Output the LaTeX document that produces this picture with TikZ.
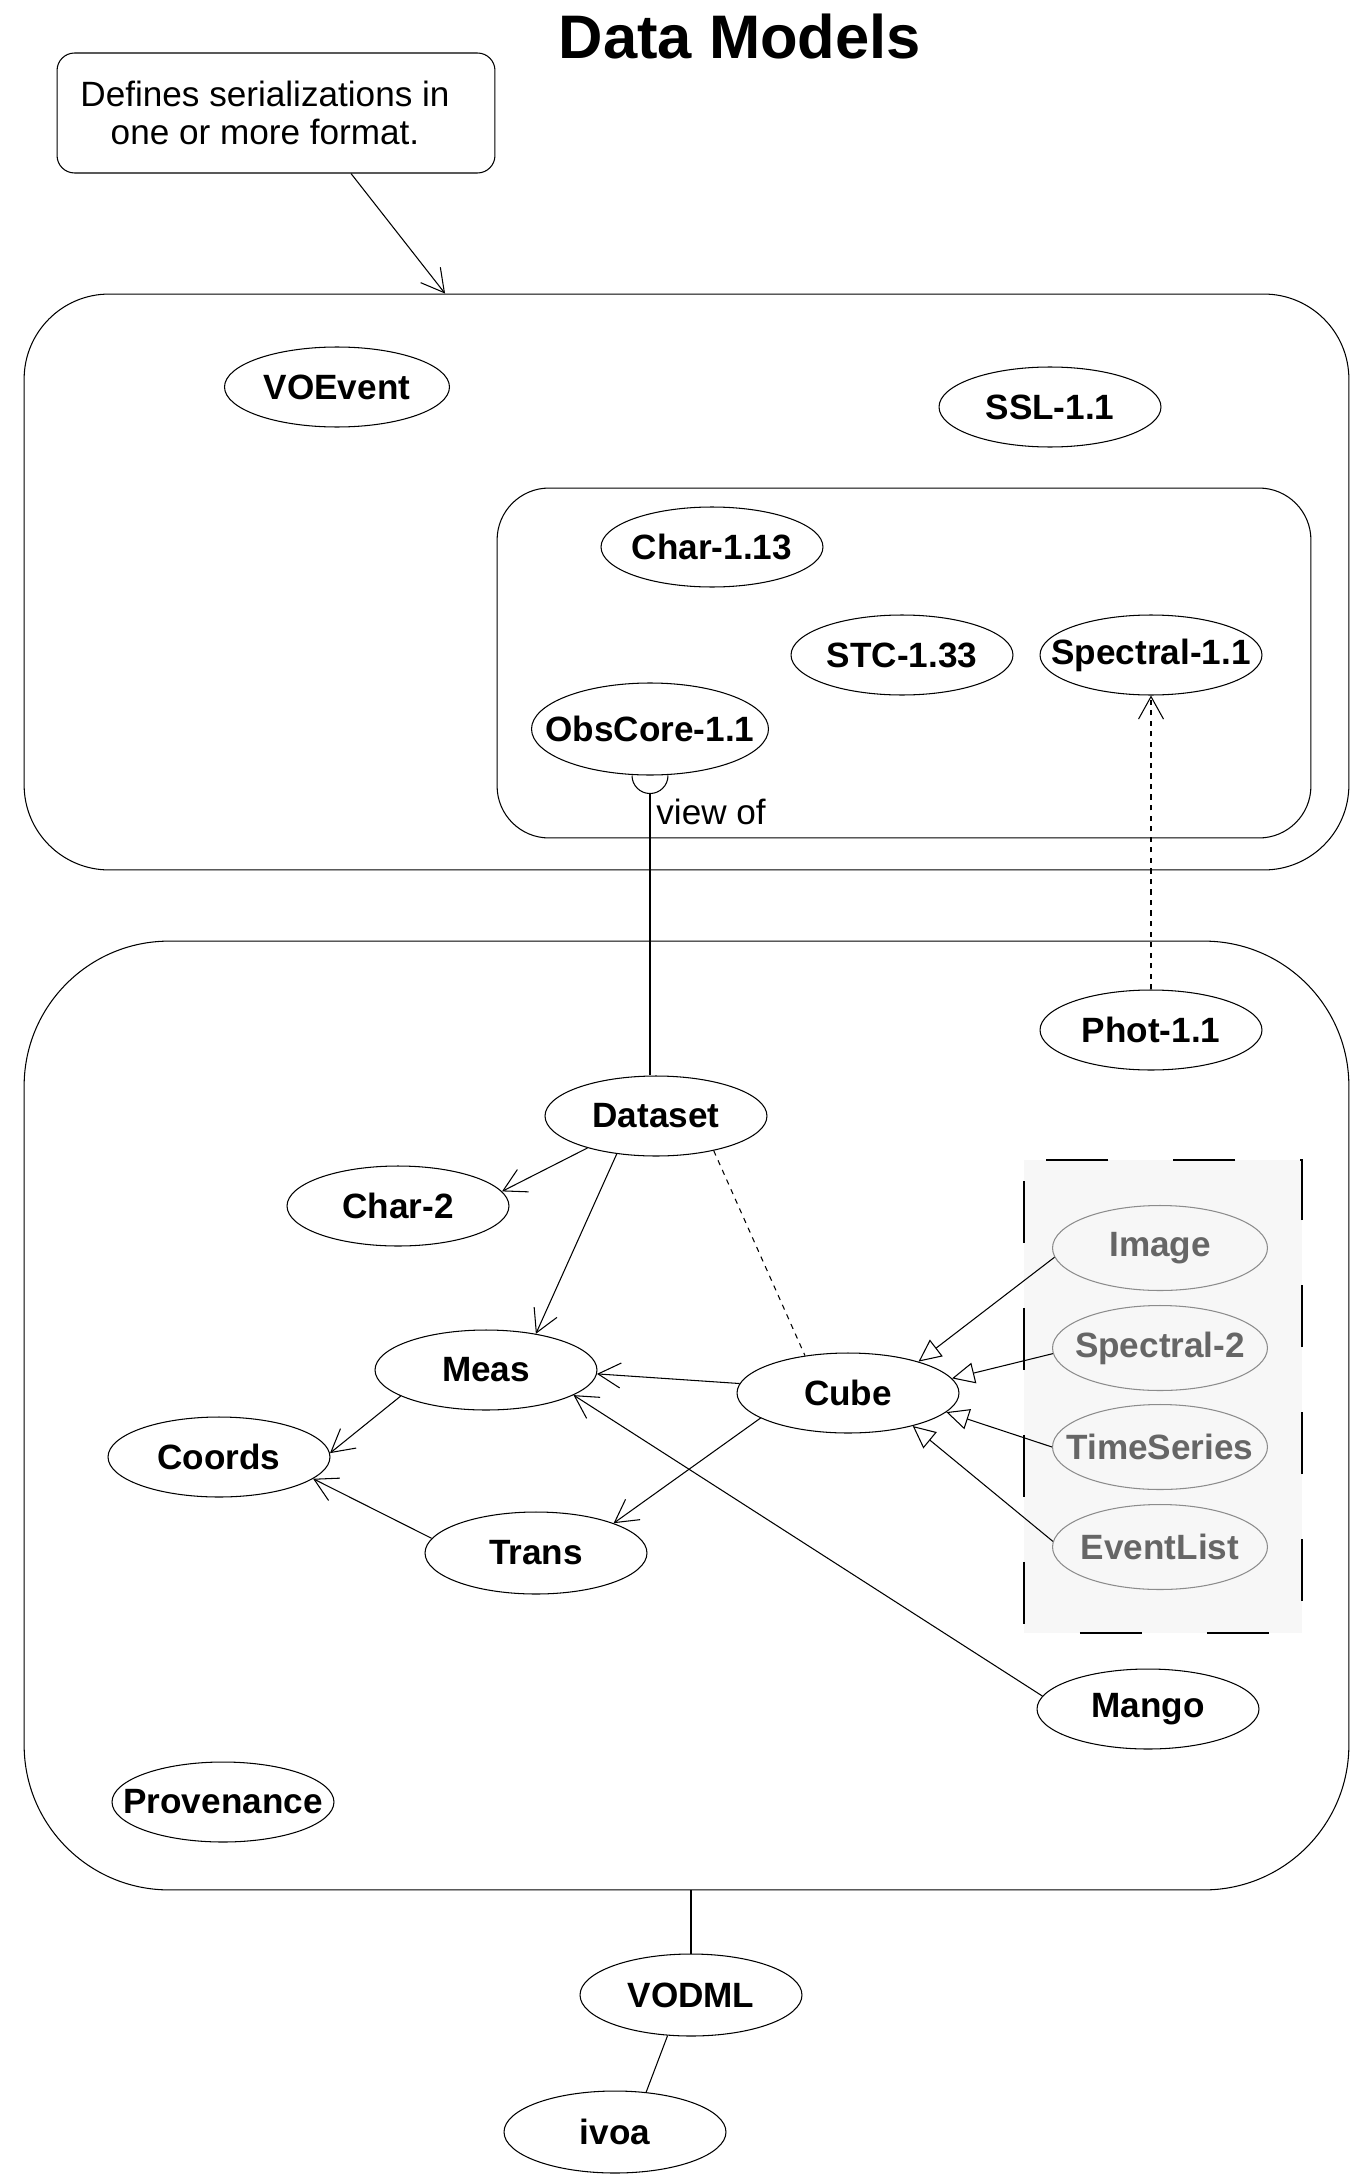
\documentclass[tikz,border=0pt]{standalone}
\usepackage{fontspec}
\setmainfont{Liberation Sans}
\usetikzlibrary{shapes.geometric,arrows.meta}

\begin{document}
\begin{tikzpicture}[x=0.02cm,y=-0.02cm,line width=0.6pt,
  model/.style={draw,ellipse,fill=white,minimum width=4.44cm,minimum height=1.6cm,inner xsep=-1.5cm,inner ysep=0pt,font=\fontsize{20}{24}\selectfont\bfseries},
  future/.style={model,draw=black!45,fill=black!3,text=black!60,minimum width=4.3cm,minimum height=1.7cm},
  pkg/.style={draw,rounded corners=#1},
  uses/.style={-{Straight Barb[length=0.45cm,width=0.5cm]}},
  extends/.style={-{Triangle[length=0.45cm,width=0.42cm,fill=white]}},
  dep/.style={dash pattern=on 3pt off 3pt}]
\useasboundingbox (0,0) rectangle (1353,2176);

\node [font=\fontsize{35}{40}\selectfont\bfseries] (title) at (740,37) {Data Models};
\node [draw,rounded corners=0.35cm,minimum width=8.76cm,minimum height=2.4cm,align=center,font=\fontsize{20}{21.3}\selectfont] (note) at (276,113) {Defines serializations in\hspace*{0.44cm}\\one or more format.\hspace*{0.44cm}};

\node [pkg=1.7cm,minimum width=26.5cm,minimum height=11.52cm] (dm1) at (686.5,582) {};
\node [pkg=1.04cm,minimum width=16.28cm,minimum height=7cm] (dm1sub) at (904,663) {};
\node [pkg=2.9cm,minimum width=26.5cm,minimum height=18.98cm] (dm2) at (686.5,1415.5) {};
\draw [line width=0.8pt,fill=black!3,dash pattern=on 1.24cm off 1.3cm,dash phase=2.12cm] (1024,1160) rectangle (1302,1633);

\node [model,minimum width=4.5cm] (VOEvent) at (337,387) {VOEvent};
\node [model] (SSL) at (1050,407) {SSL-1.1};
\node [model] (Char113) at (712,547) {Char-1.13};
\node [model] (STC) at (902,655) {STC-1.33};
\node [model] (Spectral11) at (1151,655) {Spectral-1.1};
\node [model,minimum width=4.74cm,minimum height=1.84cm] (ObsCore) at (650,729) {ObsCore-1.1};

\node [model] (Phot) at (1151,1030) {Phot-1.1};
\node [model] (Dataset) at (656,1116) {Dataset};
\node [model] (Char2) at (398,1206) {Char-2};
\node [model] (Meas) at (486,1370) {Meas};
\node [model] (Coords) at (219,1457) {Coords};
\node [model,minimum height=1.64cm] (Trans) at (536,1553) {Trans};
\node [model] (Cube) at (848,1393) {Cube};
\node [future] (Image) at (1160,1248) {Image};
\node [future] (Spectral2) at (1160,1348) {Spectral-2};
\node [future] (TimeSeries) at (1160,1447) {TimeSeries};
\node [future] (EventList) at (1160,1547) {EventList};
\node [model] (Mango) at (1148,1709) {Mango};
\node [model] (Provenance) at (223,1802) {Provenance};
\node [model,minimum height=1.64cm] (VODML) at (691,1995) {VODML};
\node [model,minimum height=1.64cm] (ivoa) at (615,2132) {ivoa};

\draw [uses] ([xshift=1.5cm]note.south) -- ([xshift=-4.83cm]dm1.north);

\draw (ObsCore.south) ++(-18,0) arc [start angle=180, end angle=360, radius=0.36cm];
\draw ([yshift=-0.36cm]ObsCore.south) -- node [pos=0.065,right,font=\fontsize{20}{24}\selectfont] {view of} (ObsCore.south |- Dataset.north);
\draw [dep,uses] (Phot.north) -- (Spectral11.south);

\draw [uses] (Dataset.205) -- (Char2.8);
\draw [uses] (Dataset.224) -- (Meas.36);
\draw [dep] (Dataset.329) -- (Cube.139);
\draw [uses] (Cube.175) -- (Meas.358);
\draw [uses] (Cube.196) -- (Trans.21);
\draw [uses] (Meas.197) -- (Coords.2);
\draw [uses] (Trans.172) -- (Coords.347);
\draw [uses] (Mango.173) -- (Meas.344);
\draw [extends] (Image.185) -- (Cube.24);
\draw [extends] (Spectral2.183) -- (Cube.8);
\draw [extends] (TimeSeries.180) -- (Cube.349);
\draw [extends] (EventList.177) -- (Cube.333);

\draw (VODML.north |- dm2.south) -- (VODML.north);
\draw (VODML.240) -- (ivoa.52);

\end{tikzpicture}
\end{document}
